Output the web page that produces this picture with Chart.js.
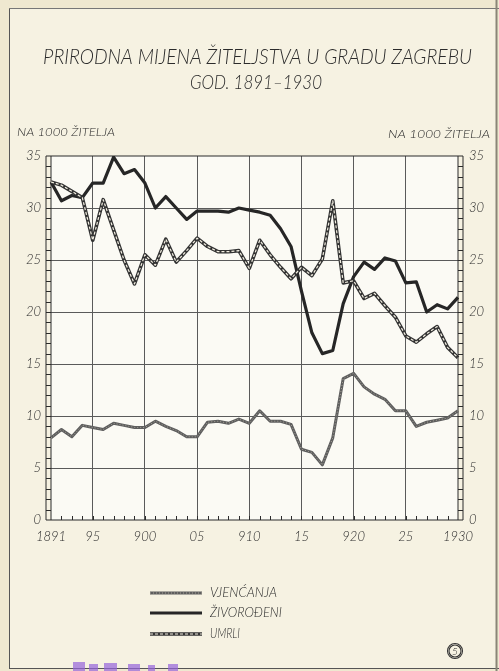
<!DOCTYPE html>
<html lang="hr">
<head>
<meta charset="UTF-8">
<title>Prirodna mijena žiteljstva u gradu Zagrebu 1891-1930</title>
<script src="https://cdn.jsdelivr.net/npm/chart.js@4.4.1/dist/chart.umd.min.js"></script>
<style>
  html, body { margin: 0; padding: 0; background: #efe8d0; }
  #okvir { position: relative; width: 499px; height: 671px; overflow: hidden; }
  canvas { display: block; }
</style>
</head>
<body>
<div id="okvir"><canvas id="grafikon" width="499" height="671"></canvas></div>
<script>
/* =====================================
   PODACI (na 1000 žitelja)
===================================== */
const godine = [1891, 1892, 1893, 1894, 1895, 1896, 1897, 1898, 1899, 1900,
                1901, 1902, 1903, 1904, 1905, 1906, 1907, 1908, 1909, 1910,
                1911, 1912, 1913, 1914, 1915, 1916, 1917, 1918, 1919, 1920,
                1921, 1922, 1923, 1924, 1925, 1926, 1927, 1928, 1929, 1930];

const vjencanja = [7.9, 8.7, 8.0, 9.1, 8.9, 8.7, 9.3, 9.1, 8.9, 8.9,
                   9.5, 9.0, 8.6, 8.0, 8.0, 9.4, 9.5, 9.3, 9.7, 9.3,
                   10.5, 9.5, 9.5, 9.2, 6.8, 6.5, 5.3, 7.9, 13.6, 14.1,
                   12.8, 12.1, 11.6, 10.5, 10.5, 9.0, 9.4, 9.6, 9.8, 10.5];

const zivorodeni = [32.5, 30.7, 31.2, 31.0, 32.4, 32.4, 34.9, 33.3, 33.7, 32.4,
                    30.0, 31.1, 30.0, 28.9, 29.7, 29.7, 29.7, 29.6, 30.0, 29.8,
                    29.6, 29.3, 28.0, 26.3, 22.0, 18.0, 16.0, 16.3, 20.8, 23.4,
                    24.8, 24.1, 25.2, 24.9, 22.8, 22.9, 20.0, 20.7, 20.3, 21.4];

const umrli = [32.5, 32.2, 31.6, 31.0, 26.9, 30.8, 27.9, 25.0, 22.7, 25.5,
               24.5, 27.0, 24.8, 25.9, 27.1, 26.3, 25.8, 25.8, 25.9, 24.2,
               26.9, 25.5, 24.3, 23.2, 24.3, 23.5, 25.1, 30.7, 22.8, 23.0,
               21.3, 21.8, 20.6, 19.5, 17.7, 17.1, 17.9, 18.6, 16.6, 15.6];

// oznake na osi x (godine s natpisom)
const godineOznaka = [1891, 1895, 1900, 1905, 1910, 1915, 1920, 1925, 1930];
const tekstOznaka = ["1891", "95", "900", "05", "910", "15", "920", "25", "1930"];

const nazivSerija = ["VJENĆANJA", "ŽIVOROĐENI", "UMRLI"];

/* =====================================
   POMOĆNE FUNKCIJE
===================================== */
const FONT = "Lato, 'DejaVu Sans', sans-serif";
const TINTA = "#2b2b2b";

// crta tekst sužen na zadanu širinu (rukom pisana slova su uska)
function pisi(ctx, str, x, y, size, sirina, align) {
    ctx.save();
    ctx.font = `italic 300 ${size}px ${FONT}`;
    const sx = sirina ? sirina / ctx.measureText(str).width : 1;
    ctx.translate(x, y);
    ctx.scale(sx, 1);
    ctx.textAlign = align || "center";
    ctx.textBaseline = "middle";
    ctx.fillStyle = TINTA;
    ctx.fillText(str, 0, 0);
    ctx.restore();
}

function linija(ctx, x1, y1, x2, y2, boja, debljina, crtice) {
    ctx.save();
    ctx.beginPath();
    ctx.moveTo(x1, y1);
    ctx.lineTo(x2, y2);
    ctx.strokeStyle = boja;
    ctx.lineWidth = debljina;
    ctx.setLineDash(crtice || []);
    ctx.stroke();
    ctx.restore();
}

/* =====================================
   PLUGINI: papir, okvir, naslovi, legenda
===================================== */
const papir = {
    id: "papir",
    beforeDraw(chart) {
        const { ctx, chartArea: a } = chart;
        ctx.save();
        ctx.fillStyle = "#efe8d0";
        ctx.fillRect(0, 0, 499, 671);
        ctx.fillStyle = "#f6f2e2";
        ctx.fillRect(9, 8, 487, 660);
        ctx.fillStyle = "#fbfaf4";
        ctx.fillRect(a.left, a.top, a.right - a.left, a.bottom - a.top);
        ctx.restore();
        // okvir lista
        linija(ctx, 9.5, 8, 9.5, 668, "#555", 1);
        linija(ctx, 9, 8.5, 499, 8.5, "#777", 1);
        linija(ctx, 9, 668.5, 499, 668.5, "#555", 1);
        linija(ctx, 496.5, 0, 496.5, 671, "#8a8577", 2);
    }
};

const osi = {
    id: "osi",
    beforeDatasetsDraw(chart) {
        const { ctx, chartArea: a, scales } = chart;
        const y = scales.y;
        const x = scales.x;
        // okvir grafikona
        linija(ctx, a.left - 5, a.top, a.right + 5, a.top, TINTA, 1.2);
        linija(ctx, a.left - 5, a.bottom, a.right + 5, a.bottom, TINTA, 1.2);
        // lijeva i desna "ljestvica"
        [[a.left - 5, a.left], [a.right, a.right + 5]].forEach(([l, d]) => {
            linija(ctx, l, a.top, l, a.bottom, TINTA, 1);
            linija(ctx, d, a.top, d, a.bottom, TINTA, 1);
            for (let v = 1; v < 35; v++) {
                const py = Math.round(y.getPixelForValue(v)) + 0.5;
                linija(ctx, l, py, d, py, TINTA, 1);
            }
        });
        // sitne crtice za svaku godinu
        godine.forEach((g, i) => {
            if (i === 0 || i === godine.length - 1) return;
            const px = Math.round(x.getPixelForValue(i)) + 0.5;
            linija(ctx, px, a.bottom, px, a.bottom - 4, TINTA, 1);
        });
    }
};

const natpisi = {
    id: "natpisi",
    afterDraw(chart) {
        const ctx = chart.ctx;
        pisi(ctx, "PRIRODNA MIJENA ŽITELJSTVA U GRADU ZAGREBU", 257.5, 57, 22, 429);
        pisi(ctx, "GOD. 1891–1930", 256, 83, 19, 132);
        pisi(ctx, "NA 1000 ŽITELJA", 17, 132, 12.5, 98, "left");
        pisi(ctx, "NA 1000 ŽITELJA", 388, 134, 12.5, 102, "left");

        // legenda
        const redovi = [593, 613, 634];
        nazivSerija.forEach((naziv, i) => {
            const ly = redovi[i];
            if (i === 0) {
                linija(ctx, 150, ly, 202, ly, "#5e5e5e", 3);
                linija(ctx, 150, ly, 202, ly, "#a7a398", 1, [1, 2]);
            } else if (i === 1) {
                linija(ctx, 150, ly, 202, ly, "#262626", 3);
            } else {
                linija(ctx, 150, ly, 202, ly, "#333", 3.4);
                linija(ctx, 150, ly, 202, ly, "#f3efe2", 1.2, [3, 2]);
            }
            pisi(ctx, naziv, 210, ly, 13, [67, 72, 30][i], "left");
        });

        // znak u krugu
        ctx.save();
        ctx.strokeStyle = "#333";
        ctx.lineWidth = 1.1;
        ctx.beginPath();
        ctx.arc(455, 651, 7.5, 0, Math.PI * 2);
        ctx.stroke();
        ctx.beginPath();
        ctx.arc(455, 651, 6, 0, Math.PI * 2);
        ctx.stroke();
        ctx.restore();
        pisi(ctx, "5", 455, 651.5, 10);

        // ljubičasti pečat na dnu (odrezan)
        ctx.save();
        ctx.fillStyle = "rgba(150, 100, 220, 0.7)";
        [[73, 662, 12, 9], [89, 664, 9, 7], [104, 663, 13, 8], [128, 664, 12, 7], [148, 665, 7, 6], [168, 664, 10, 7]]
            .forEach(([bx, by, w, h]) => ctx.fillRect(bx, by, w, h));
        ctx.restore();
    }
};

/* =====================================
   GRAFIKON
===================================== */
const fontOsi = { family: FONT, style: "italic", weight: 300, size: 13 };

// manji "order" = crta se kasnije (iznad)
new Chart(document.getElementById("grafikon"), {
    type: "line",
    data: {
        labels: godine,
        datasets: [
            {
                label: nazivSerija[0],
                data: vjencanja,
                borderColor: "#5e5e5e",
                borderWidth: 3,
                order: 5
            },
            {
                label: nazivSerija[0] + " (zrno)",
                data: vjencanja,
                borderColor: "#a7a398",
                borderWidth: 1,
                borderDash: [1, 2],
                order: 4
            },
            {
                label: nazivSerija[1],
                data: zivorodeni,
                borderColor: "#262626",
                borderWidth: 3.2,
                order: 3
            },
            {
                label: nazivSerija[2],
                data: umrli,
                borderColor: "#333",
                borderWidth: 3.6,
                order: 2
            },
            {
                label: nazivSerija[2] + " (crtice)",
                data: umrli,
                borderColor: "#f3efe2",
                borderWidth: 1.2,
                borderDash: [3, 2],
                order: 1
            }
        ]
    },
    options: {
        responsive: false,
        animation: false,
        devicePixelRatio: 1,
        layout: { padding: { top: 156, left: 0, right: 0, bottom: 0 } },
        elements: {
            point: { radius: 0 },
            line: { tension: 0, borderJoinStyle: "round", borderCapStyle: "butt" }
        },
        plugins: {
            legend: { display: false },
            title: { display: false },
            tooltip: { enabled: false }
        },
        scales: {
            x: {
                type: "category",
                offset: false,
                border: { display: false },
                grid: {
                    drawTicks: false,
                    lineWidth: 1,
                    color: (c) => {
                        const g = godine[c.index];
                        if (g === undefined || g === 1891 || g === 1930) return "transparent";
                        return g % 5 === 0 ? "#5a5a5a" : "transparent";
                    }
                },
                ticks: {
                    autoSkip: false,
                    maxRotation: 0,
                    padding: 9,
                    color: TINTA,
                    font: fontOsi,
                    callback: (v, i) => {
                        const k = godineOznaka.indexOf(godine[i]);
                        return k >= 0 ? tekstOznaka[k] : "";
                    }
                },
                afterFit: (s) => { s.height = 151; }
            },
            y: {
                position: "left",
                min: 0,
                max: 35,
                border: { display: false },
                grid: {
                    drawTicks: false,
                    lineWidth: 1,
                    color: (c) => (c.tick && (c.tick.value === 0 || c.tick.value === 35)) ? "transparent" : "#5a5a5a"
                },
                ticks: { stepSize: 5, padding: 10, color: TINTA, font: fontOsi },
                afterFit: (s) => { s.width = 51; }
            },
            y2: {
                position: "right",
                min: 0,
                max: 35,
                border: { display: false },
                grid: { display: false, drawTicks: false },
                ticks: { stepSize: 5, padding: 11, color: TINTA, font: fontOsi },
                afterFit: (s) => { s.width = 41; }
            }
        }
    },
    plugins: [papir, osi, natpisi]
});
</script>
</body>
</html>
